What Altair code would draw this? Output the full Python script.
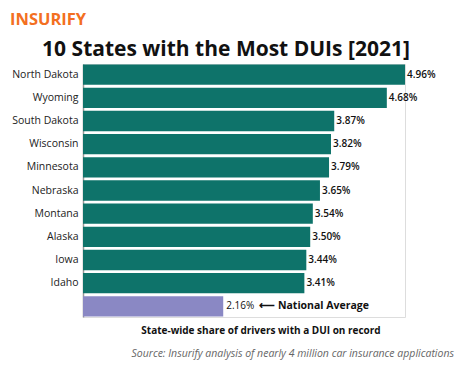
import altair as alt
import pandas as pd

states = ["North Dakota", "Wyoming", "South Dakota", "Wisconsin", "Minnesota",
          "Nebraska", "Montana", "Alaska", "Iowa", "Idaho", "National Average"]
values = [4.96, 4.68, 3.87, 3.82, 3.79, 3.65, 3.54, 3.50, 3.44, 3.41, 2.16]
groups = ["State"] * 10 + ["National"]

df = pd.DataFrame({"state": states, "value": values, "group": groups})
df["label"] = df["value"].map(lambda v: f"{v:.2f}%")

FONT = "Open Sans"
W, H = 322, 253

y_enc = alt.Y("state:N", sort=states, title=None,
              scale=alt.Scale(paddingInner=0.12, paddingOuter=0.02),
              axis=alt.Axis(ticks=False, tickSize=0, domainColor="#999999", domainWidth=1.5,
                            labelFontSize=10.5, labelColor="#222222", labelFont=FONT,
                            labelPadding=5,
                            labelExpr="datum.value == 'National Average' ? '' : datum.value"))
x_scale = alt.Scale(domain=[0, 4.96], nice=False)

base = alt.Chart(df)

bars = base.mark_bar().encode(
    x=alt.X("value:Q", scale=x_scale, axis=None),
    y=y_enc,
    color=alt.Color("group:N", scale=alt.Scale(domain=["State", "National"],
                                               range=["#0e736a", "#8a88c4"]), legend=None),
)

labels = base.transform_filter(alt.datum.group == "State").mark_text(
    align="left", baseline="middle", dx=2, fontSize=10, fontWeight=600, font=FONT, color="#111111"
).encode(x=alt.X("value:Q", scale=x_scale), y=alt.Y("state:N", sort=states), text="label:N")

nat_label = base.transform_filter(alt.datum.group == "National").mark_text(
    align="left", baseline="middle", dx=3, fontSize=10, fontWeight=400, font=FONT, color="#111111"
).encode(x=alt.X("value:Q", scale=x_scale), y=alt.Y("state:N", sort=states), text="label:N")

nat_note = base.transform_filter(alt.datum.group == "National").mark_text(
    align="left", baseline="middle", dx=36, fontSize=10.5, fontWeight="bold", font=FONT, color="#111111"
).encode(x=alt.X("value:Q", scale=x_scale), y=alt.Y("state:N", sort=states),
         text=alt.value("\u27f5 National Average"))

logo = alt.Chart(pd.DataFrame({"t": ["INSURIFY"]})).mark_text(
    align="left", baseline="middle", fontSize=16.5, fontWeight="bold", font=FONT, color="#f36f21"
).encode(x=alt.value(-73), y=alt.value(-44), text="t:N")

title = alt.Chart(pd.DataFrame({"t": ["10 States with the Most DUIs [2021]"]})).mark_text(
    align="center", baseline="middle", fontSize=21, fontWeight="bold", font=FONT, color="#111111"
).encode(x=alt.value(143), y=alt.value(-14), text="t:N")

xtitle = alt.Chart(pd.DataFrame({"t": ["State-wide share of drivers with a DUI on record"]})).mark_text(
    align="center", baseline="middle", fontSize=10, fontWeight="bold", font=FONT, color="#111111"
).encode(x=alt.value(178), y=alt.value(267), text="t:N")

source = alt.Chart(pd.DataFrame({"t": ["Source: Insurify analysis of nearly 4 million car insurance applications"]})).mark_text(
    align="right", baseline="middle", fontSize=10.5, fontStyle="italic", font=FONT, color="#666666"
).encode(x=alt.value(371), y=alt.value(290), text="t:N")

chart = alt.layer(bars, labels, nat_label, nat_note, logo, title, xtitle, source).properties(
    width=W, height=H,
    autosize=alt.AutoSizeParams(type="none"),
    padding={"left": 75, "top": 56, "right": 61, "bottom": 52},
).configure_view(stroke=None).configure(background="white")

chart.save("out.html", embed_options={"renderer": "svg", "actions": False})
